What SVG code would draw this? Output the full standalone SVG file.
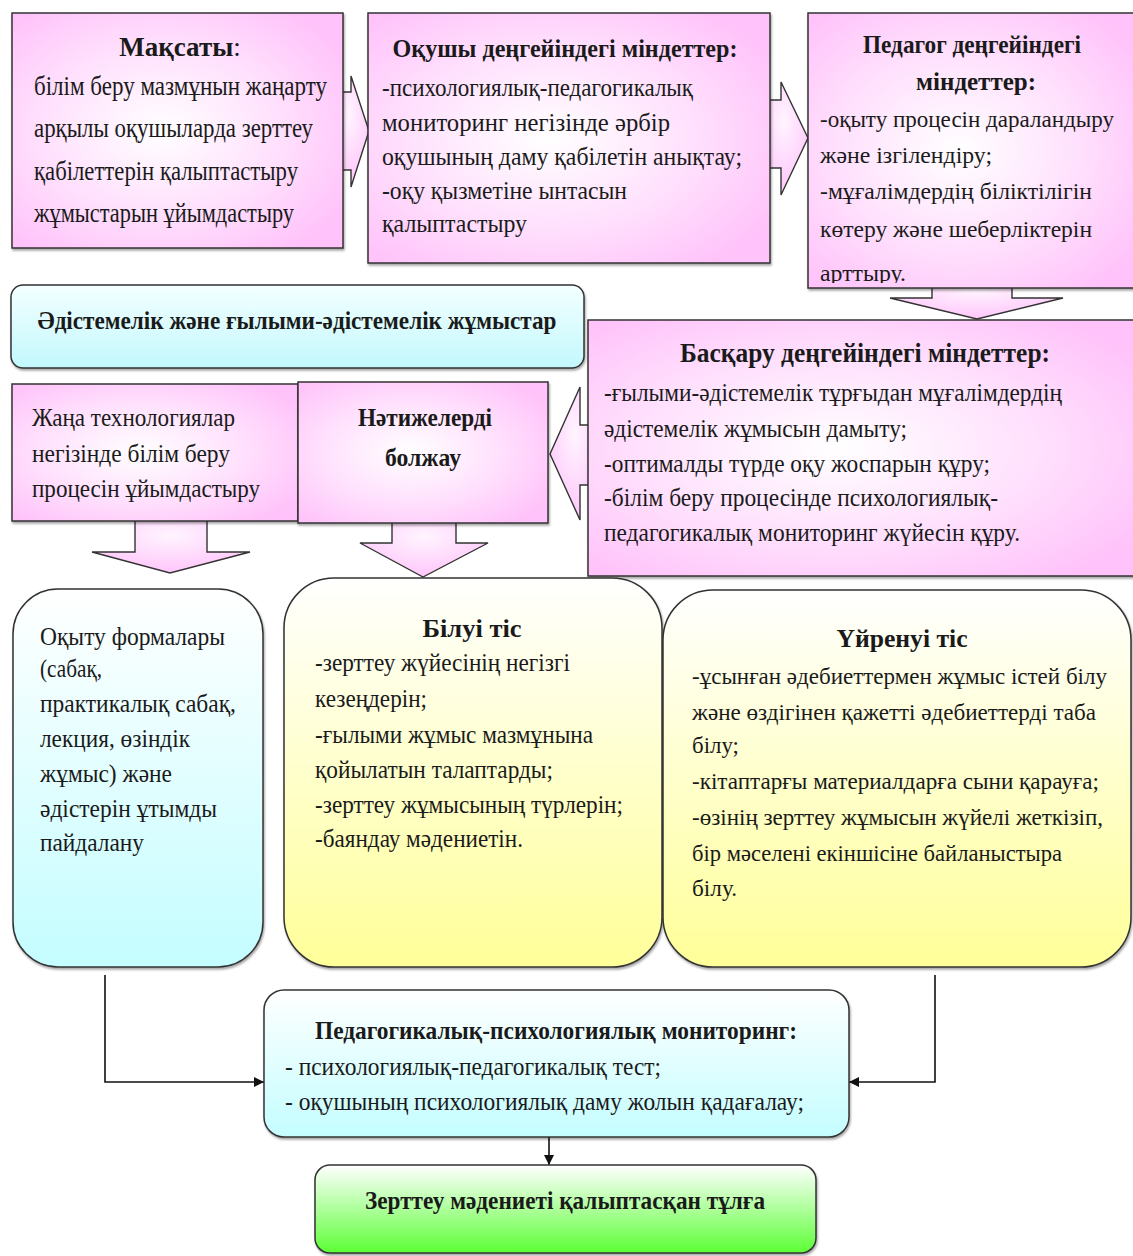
<svg xmlns="http://www.w3.org/2000/svg" width="1133" height="1256" viewBox="0 0 1133 1256">
<style>
text{font-family:"Liberation Serif","Times New Roman",serif;font-size:26px;fill:#1a1a1a}
.b{font-weight:bold}
.t{font-size:28px;font-weight:bold}
.s{font-size:24px}
.pk{fill:url(#pink);stroke:#333;stroke-width:1.5}
.ar{fill:url(#pinkA);stroke:#333;stroke-width:1.4}
.cy{fill:url(#cyan);stroke:#333;stroke-width:1.5}
.ye{fill:url(#yellow);stroke:#333;stroke-width:1.5}
.ln{fill:none;stroke:#111;stroke-width:1.6}
</style>
<defs>
<radialGradient id="pink" cx="0.45" cy="0.5" r="0.65">
<stop offset="0" stop-color="#ffffff"/>
<stop offset="0.55" stop-color="#ffe0fd"/>
<stop offset="1" stop-color="#ffc2fa"/>
</radialGradient>
<radialGradient id="pinkA" cx="0.5" cy="0.35" r="0.7">
<stop offset="0" stop-color="#fff4ff"/>
<stop offset="1" stop-color="#ffc2fa"/>
</radialGradient>
<linearGradient id="cyan" x1="0" y1="0" x2="0" y2="1">
<stop offset="0" stop-color="#ffffff"/>
<stop offset="1" stop-color="#c4fdff"/>
</linearGradient>
<linearGradient id="banner" x1="0" y1="0" x2="0" y2="1">
<stop offset="0" stop-color="#f4ffff"/>
<stop offset="1" stop-color="#c2f8fd"/>
</linearGradient>
<linearGradient id="yellow" x1="0" y1="0" x2="0" y2="1">
<stop offset="0" stop-color="#ffffff"/>
<stop offset="1" stop-color="#ffff99"/>
</linearGradient>
<linearGradient id="green" x1="0" y1="0" x2="0" y2="1">
<stop offset="0" stop-color="#ffffff"/>
<stop offset="1" stop-color="#5cff36"/>
</linearGradient>
<filter id="sh" x="-5%" y="-5%" width="110%" height="115%">
<feDropShadow dx="1" dy="2" stdDeviation="1" flood-color="#000" flood-opacity="0.35"/>
</filter>
<marker id="ah" viewBox="0 0 10 10" refX="10" refY="5" markerWidth="10" markerHeight="10" orient="auto" markerUnits="userSpaceOnUse">
<path d="M0,0 L10,5 L0,10 z" fill="#111"/>
</marker>
<clipPath id="clip3"><rect x="808" y="0" width="330" height="283"/></clipPath>
</defs>

<g id="connectors">
<polygon class="ar" points="330,92 351,92 351,76 369,131 351,187 351,170 330,170"/>
<polygon class="ar" points="760,100 781,100 781,82 808,138 781,195 781,168 760,168"/>
<polygon class="ar" points="932,275 932,298 890,298 977,319 1063,298 1012,298 1012,275"/>
<polygon class="ar" points="600,425 580,425 580,387 550,454 580,520 580,485 600,485"/>
<polygon class="ar" points="135,515 135,552 92,552 170,573 250,552 207,552 207,515"/>
<polygon class="ar" points="392,515 392,543 360,543 423,577 488,543 456,543 456,515"/>
<polyline class="ln" points="105,975 105,1082 264,1082" marker-end="url(#ah)"/>
<polyline class="ln" points="935,975 935,1082 849,1082" marker-end="url(#ah)"/>
<line class="ln" x1="549" y1="1137" x2="549" y2="1165" marker-end="url(#ah)"/>
</g>

<g id="maqsaty">
<rect class="pk" x="12" y="13" width="331" height="235" filter="url(#sh)"/>
<text x="180" y="56" text-anchor="middle" style="font-size:27px"><tspan class="b">Мақсаты</tspan>:</text>
<text x="34" y="95" style="font-size:27px" textLength="293" lengthAdjust="spacingAndGlyphs">білім беру мазмұнын жаңарту</text>
<text x="34" y="137" style="font-size:27px" textLength="279" lengthAdjust="spacingAndGlyphs">арқылы оқушыларда зерттеу</text>
<text x="34" y="180" style="font-size:27px" textLength="264" lengthAdjust="spacingAndGlyphs">қабілеттерін қалыптастыру</text>
<text x="34" y="222" style="font-size:27px" textLength="260" lengthAdjust="spacingAndGlyphs">жұмыстарын ұйымдастыру</text>
</g>

<g id="oqushy">
<rect class="pk" x="368" y="13" width="402" height="250" filter="url(#sh)"/>
<text class="b" x="565" y="57" text-anchor="middle" textLength="345" lengthAdjust="spacingAndGlyphs">Оқушы деңгейіндегі міндеттер:</text>
<text x="382" y="96" textLength="311" lengthAdjust="spacingAndGlyphs">-психологиялық-педагогикалық</text>
<text x="382" y="131" textLength="288" lengthAdjust="spacingAndGlyphs">мониторинг негізінде әрбір</text>
<text x="382" y="165" textLength="360" lengthAdjust="spacingAndGlyphs">оқушының даму қабілетін анықтау;</text>
<text x="382" y="199" textLength="245" lengthAdjust="spacingAndGlyphs">-оқу қызметіне ынтасын</text>
<text x="382" y="232" textLength="145" lengthAdjust="spacingAndGlyphs">қалыптастыру</text>
</g>

<g id="pedagog">
<rect class="pk" x="808" y="13" width="335" height="275" filter="url(#sh)"/>
<g clip-path="url(#clip3)">
<text class="b" x="972" y="53" text-anchor="middle" textLength="218" lengthAdjust="spacingAndGlyphs">Педагог деңгейіндегі</text>
<text class="b" x="976" y="90" text-anchor="middle" textLength="120" lengthAdjust="spacingAndGlyphs">міндеттер:</text>
<text class="s" x="820" y="127" textLength="294" lengthAdjust="spacingAndGlyphs">-оқыту процесін дараландыру</text>
<text class="s" x="820" y="163" textLength="172" lengthAdjust="spacingAndGlyphs">және ізгілендіру;</text>
<text class="s" x="820" y="199" textLength="272" lengthAdjust="spacingAndGlyphs">-мұғалімдердің біліктілігін</text>
<text class="s" x="820" y="237" textLength="272" lengthAdjust="spacingAndGlyphs">көтеру және шеберліктерін</text>
<text class="s" x="820" y="281" textLength="86" lengthAdjust="spacingAndGlyphs">арттыру.</text>
</g>
</g>

<g id="adistemelik">
<rect x="11" y="285" width="573" height="83" rx="12" fill="url(#banner)" stroke="#333" stroke-width="1.5" filter="url(#sh)"/>
<text class="b" x="297" y="329" text-anchor="middle" textLength="519" lengthAdjust="spacingAndGlyphs">Әдістемелік және ғылыми-әдістемелік жұмыстар</text>
</g>

<g id="baskaru">
<rect class="pk" x="588" y="320" width="555" height="256" filter="url(#sh)"/>
<text class="t" x="865" y="362" text-anchor="middle" textLength="370" lengthAdjust="spacingAndGlyphs">Басқару деңгейіндегі міндеттер:</text>
<text x="604" y="401" textLength="458" lengthAdjust="spacingAndGlyphs">-ғылыми-әдістемелік тұрғыдан мұғалімдердің</text>
<text x="604" y="437" textLength="303" lengthAdjust="spacingAndGlyphs">әдістемелік жұмысын дамыту;</text>
<text x="604" y="472" textLength="386" lengthAdjust="spacingAndGlyphs">-оптималды түрде оқу жоспарын құру;</text>
<text x="604" y="506" textLength="394" lengthAdjust="spacingAndGlyphs">-білім беру процесінде психологиялық-</text>
<text x="604" y="541" textLength="416" lengthAdjust="spacingAndGlyphs">педагогикалық мониторинг жүйесін құру.</text>
</g>

<g id="zhana">
<rect class="pk" x="12" y="384" width="286" height="137" filter="url(#sh)"/>
<text x="32" y="426" textLength="203" lengthAdjust="spacingAndGlyphs">Жаңа технологиялар</text>
<text x="32" y="462" textLength="198" lengthAdjust="spacingAndGlyphs">негізінде білім беру</text>
<text x="32" y="497" textLength="228" lengthAdjust="spacingAndGlyphs">процесін ұйымдастыру</text>
</g>

<g id="natizhe">
<rect class="pk" x="298" y="382" width="250" height="141" filter="url(#sh)"/>
<text class="b" x="425" y="426" text-anchor="middle" textLength="134" lengthAdjust="spacingAndGlyphs">Нәтижелерді</text>
<text class="b" x="423" y="466" text-anchor="middle" textLength="76" lengthAdjust="spacingAndGlyphs">болжау</text>
</g>

<g id="oqytu">
<rect class="cy" x="13" y="589" width="250" height="378" rx="45" filter="url(#sh)"/>
<text x="40" y="645" textLength="185" lengthAdjust="spacingAndGlyphs">Оқыту формалары</text>
<text x="40" y="677" textLength="62" lengthAdjust="spacingAndGlyphs">(сабақ,</text>
<text x="40" y="712" textLength="196" lengthAdjust="spacingAndGlyphs">практикалық сабақ,</text>
<text x="40" y="747" textLength="150" lengthAdjust="spacingAndGlyphs">лекция, өзіндік</text>
<text x="40" y="782" textLength="132" lengthAdjust="spacingAndGlyphs">жұмыс) және</text>
<text x="40" y="817" textLength="177" lengthAdjust="spacingAndGlyphs">әдістерін ұтымды</text>
<text x="40" y="851" textLength="104" lengthAdjust="spacingAndGlyphs">пайдалану</text>
</g>

<g id="biluy">
<rect class="ye" x="284" y="578" width="378" height="389" rx="50" filter="url(#sh)"/>
<text class="b" x="472" y="637" text-anchor="middle" textLength="99" lengthAdjust="spacingAndGlyphs">Білуі тіс</text>
<text x="315" y="671" textLength="255" lengthAdjust="spacingAndGlyphs">-зерттеу жүйесінің негізгі</text>
<text x="315" y="707" textLength="112" lengthAdjust="spacingAndGlyphs">кезеңдерін;</text>
<text x="315" y="743" textLength="278" lengthAdjust="spacingAndGlyphs">-ғылыми жұмыс мазмұнына</text>
<text x="315" y="778" textLength="238" lengthAdjust="spacingAndGlyphs">қойылатын талаптарды;</text>
<text x="315" y="813" textLength="308" lengthAdjust="spacingAndGlyphs">-зерттеу жұмысының түрлерін;</text>
<text x="315" y="847" textLength="208" lengthAdjust="spacingAndGlyphs">-баяндау мәдениетін.</text>
</g>

<g id="uyrenuy">
<rect class="ye" x="663" y="590" width="468" height="377" rx="50" filter="url(#sh)"/>
<text class="b" x="902" y="647" text-anchor="middle" textLength="131" lengthAdjust="spacingAndGlyphs">Үйренуі тіс</text>
<text class="s" x="692" y="684" textLength="415" lengthAdjust="spacingAndGlyphs">-ұсынған әдебиеттермен жұмыс істей білу</text>
<text class="s" x="692" y="720" textLength="404" lengthAdjust="spacingAndGlyphs">және өздігінен қажетті әдебиеттерді таба</text>
<text class="s" x="692" y="753" textLength="47" lengthAdjust="spacingAndGlyphs">білу;</text>
<text class="s" x="692" y="789" textLength="407" lengthAdjust="spacingAndGlyphs">-кітаптарғы материалдарға сыни қарауға;</text>
<text class="s" x="692" y="825" textLength="411" lengthAdjust="spacingAndGlyphs">-өзінің зерттеу жұмысын жүйелі жеткізіп,</text>
<text class="s" x="692" y="861" textLength="370" lengthAdjust="spacingAndGlyphs">бір мәселені екіншісіне байланыстыра</text>
<text class="s" x="692" y="896" textLength="45" lengthAdjust="spacingAndGlyphs">білу.</text>
</g>

<g id="monitoring">
<rect class="cy" x="264" y="990" width="585" height="147" rx="20" filter="url(#sh)"/>
<text class="b" x="556" y="1039" text-anchor="middle" textLength="482" lengthAdjust="spacingAndGlyphs">Педагогикалық-психологиялық мониторинг:</text>
<text x="285" y="1075" textLength="376" lengthAdjust="spacingAndGlyphs">- психологиялық-педагогикалық тест;</text>
<text x="285" y="1110" textLength="519" lengthAdjust="spacingAndGlyphs">- оқушының психологиялық даму жолын қадағалау;</text>
</g>

<g id="tulga">
<rect x="315" y="1165" width="501" height="88" rx="15" fill="url(#green)" stroke="#333" stroke-width="1.5" filter="url(#sh)"/>
<text class="b" x="565" y="1209" text-anchor="middle" textLength="400" lengthAdjust="spacingAndGlyphs">Зерттеу мәдениеті қалыптасқан тұлға</text>
</g>
</svg>
